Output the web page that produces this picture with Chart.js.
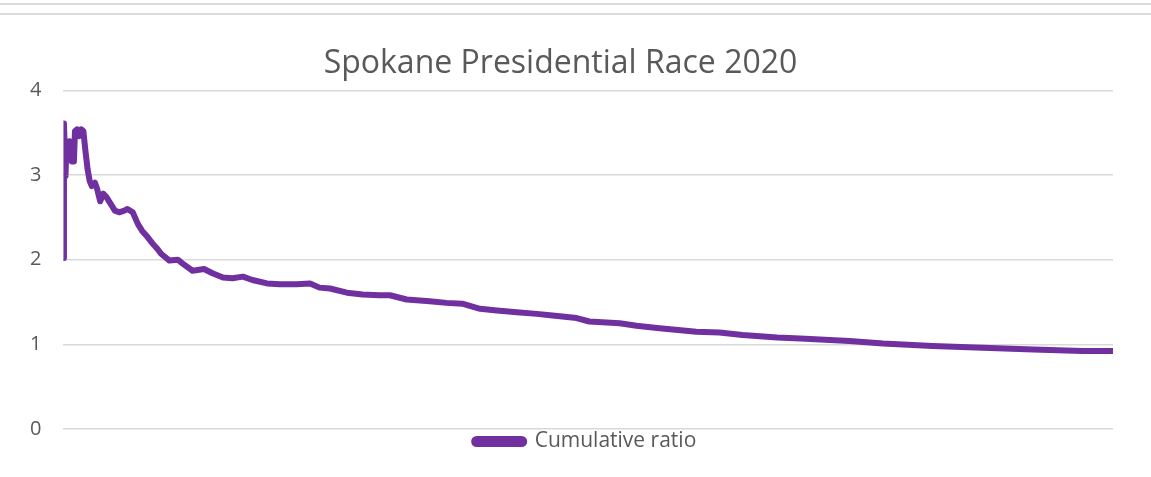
<!DOCTYPE html>
<html>
<head>
<meta charset="utf-8">
<script src="https://cdn.jsdelivr.net/npm/chart.js@4.4.0/dist/chart.umd.min.js"></script>
<style>
  body { margin: 0; background: #fff; }
  #wrap { position: relative; width: 1151px; height: 477px; }
  .rule { position: absolute; left: 0; width: 1151px; height: 2px; background: #dcdcdc; }
</style>
</head>
<body>
<div id="wrap">
  <div class="rule" style="top:3px"></div>
  <div class="rule" style="top:13px"></div>
  <canvas id="myChart" width="1151" height="477"></canvas>
</div>
<script>
// share of ballots counted (%)
var countedPct = [0, 0.05, 0.2, 0.3, 0.5, 0.6, 0.8, 1.0, 1.1, 1.3, 1.5, 1.7, 1.9, 2.1, 2.3, 2.5, 2.7, 3.0,
    3.2, 3.5, 3.8, 4.1, 4.5, 4.9, 5.3, 5.8, 6.1, 6.6, 7.1, 7.5, 8.0, 8.5, 9.0, 9.3, 10.1, 10.9, 11.3,
    12.3, 13.4, 14.2, 15.2, 16.1, 17.1, 18.0, 19.4, 20.6, 22.2, 23.5, 24.4, 25.4, 27.0, 28.5, 30.1,
    31.1, 32.7, 34.9, 36.5, 38.0, 39.7, 41.3, 43.2, 45.1, 46.6, 48.9, 50.1, 53.0, 54.6, 56.8, 60.3,
    62.5, 64.7, 68.0, 70.2, 74.9, 78.1, 82.8, 87.6, 92.4, 97.1, 100];
var cumulativeRatio = [2.02, 3.61, 2.99, 3.40, 3.28, 3.40, 3.16, 3.16, 3.52, 3.54, 3.46, 3.54, 3.52, 3.28,
    3.07, 2.93, 2.87, 2.91, 2.84, 2.69, 2.78, 2.74, 2.66, 2.58, 2.56, 2.58, 2.60, 2.56, 2.42, 2.34,
    2.27, 2.19, 2.12, 2.07, 1.99, 2.00, 1.96, 1.87, 1.89, 1.84, 1.79, 1.78, 1.80, 1.76, 1.72, 1.71,
    1.71, 1.72, 1.67, 1.66, 1.61, 1.59, 1.58, 1.58, 1.53, 1.51, 1.49, 1.48, 1.42, 1.40, 1.38, 1.36,
    1.34, 1.31, 1.27, 1.25, 1.22, 1.19, 1.15, 1.14, 1.11, 1.08, 1.07, 1.04, 1.01, 0.98, 0.96, 0.94,
    0.92, 0.92];
var yTicks = [0, 1, 2, 3, 4];

var points = countedPct.map(function (x, i) { return { x: x, y: cumulativeRatio[i] }; });

// legend sits centred under the plot area, not the whole canvas
var legendUnderPlot = {
    id: 'legendUnderPlot',
    afterLayout: function (chart) {
        var lg = chart.legend;
        var shift = (chart.chartArea.left + chart.chartArea.right) - (lg.left + lg.right);
        lg.left += shift - 6;
    }
};

var ctx = document.getElementById('myChart');
var chart = new Chart(ctx, {
    type: 'line',
    data: {
        datasets: [{
            label: 'Cumulative ratio',
            data: points,
            borderColor: '#7030A0',
            backgroundColor: '#7030A0',
            borderWidth: 6,
            pointRadius: 0,
            tension: 0,
            borderCapStyle: 'round',
            borderJoinStyle: 'round'
        }]
    },
    plugins: [legendUnderPlot],
    options: {
        responsive: false,
        animation: false,
        layout: { padding: { left: 8, right: 38, top: 22, bottom: 15 } },
        plugins: {
            title: {
                display: true,
                text: 'Spokane Presidential Race 2020',
                color: '#595959',
                font: { family: 'Open Sans', size: 32, weight: 'normal' },
                padding: { top: 23, bottom: 7 }
            },
            legend: {
                position: 'bottom',
                labels: {
                    boxWidth: 50,
                    boxHeight: 5,
                    useBorderRadius: true,
                    borderRadius: 2.5,
                    color: '#595959',
                    font: { family: 'Open Sans', size: 21 },
                    padding: 2
                }
            },
            tooltip: { enabled: false }
        },
        scales: {
            x: {
                type: 'linear',
                min: 0,
                max: 100,
                display: false
            },
            y: {
                min: 0,
                max: 4,
                afterBuildTicks: function (axis) {
                    axis.ticks = yTicks.map(function (v) { return { value: v }; });
                },
                ticks: {
                    color: '#595959',
                    font: { family: 'Open Sans', size: 20 },
                    padding: 22
                },
                grid: { color: '#d9d9d9', lineWidth: 1.5, drawTicks: false },
                border: { display: false }
            }
        }
    }
});
</script>
</body>
</html>
